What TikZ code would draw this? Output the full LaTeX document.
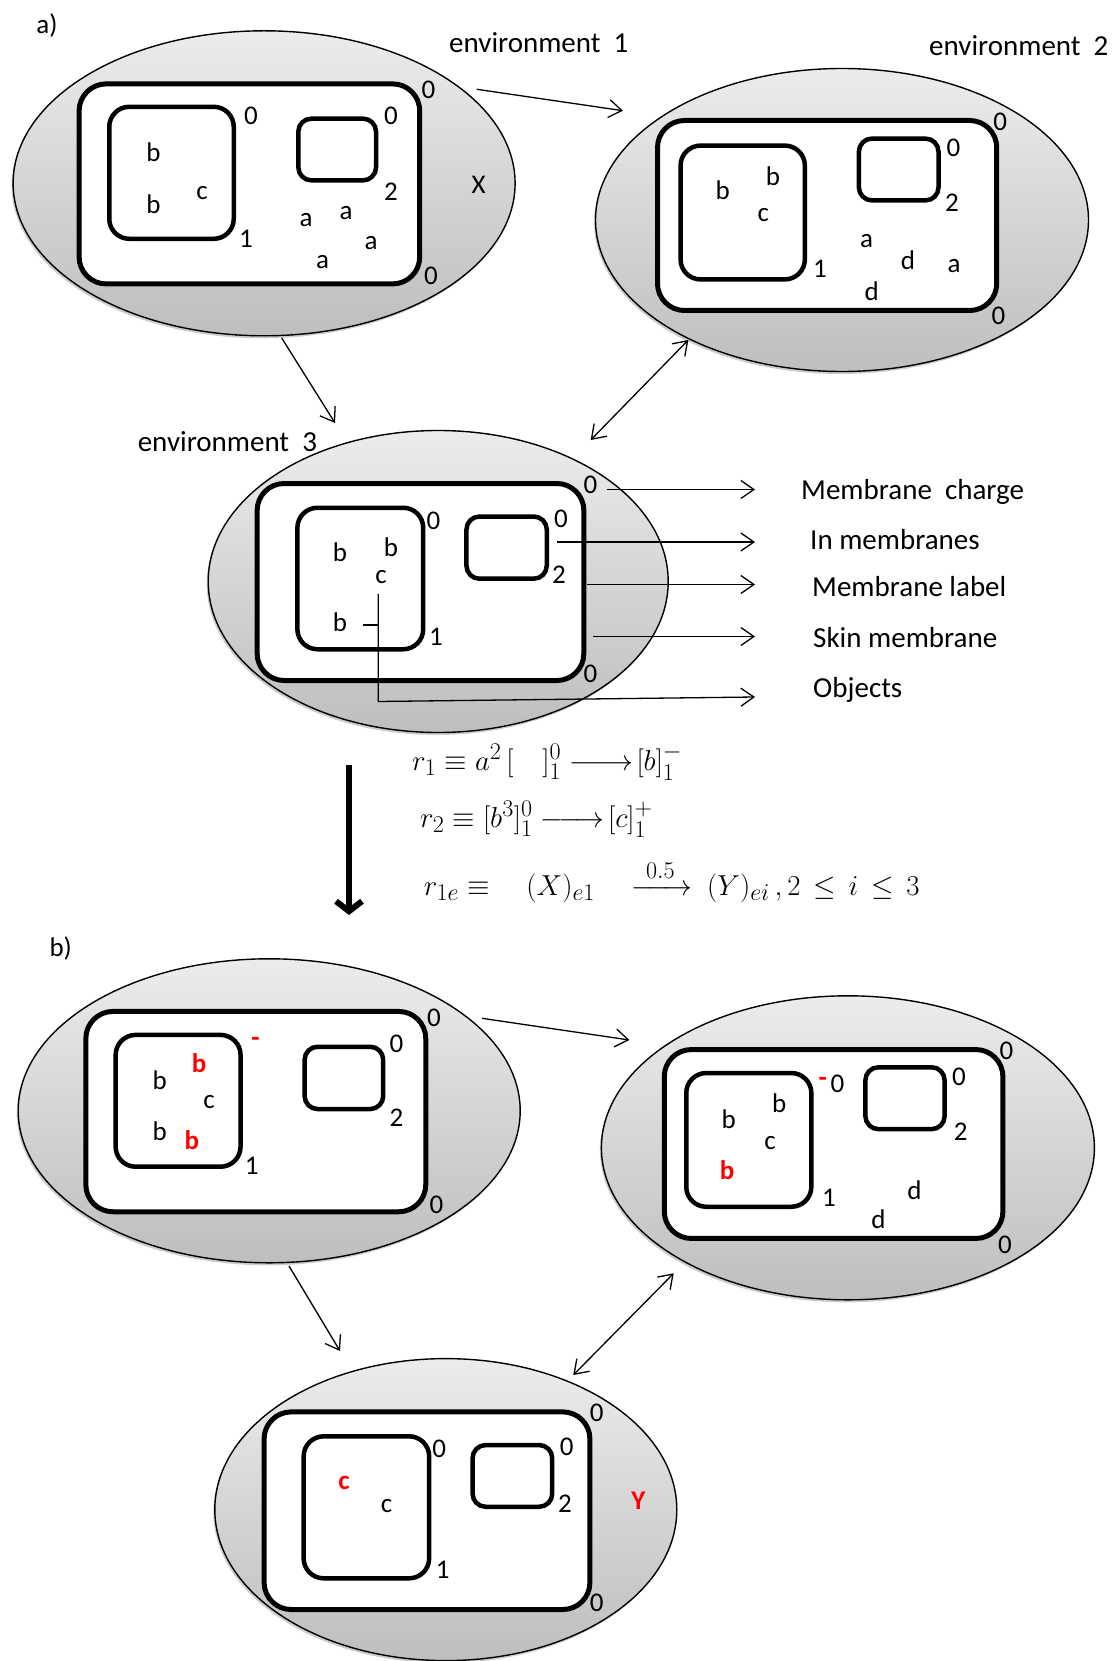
\documentclass[tikz,border=0pt]{standalone}
\usepackage{amsmath}
\usepackage{fontspec}
\setmainfont{Carlito}
\usetikzlibrary{shapes.geometric,arrows.meta,shadows}

\definecolor{envtop}{RGB}{236,236,236}
\definecolor{envbot}{RGB}{190,190,190}
\definecolor{hotred}{RGB}{255,0,0}

% a longer reaction arrow
\newcommand{\reacarrow}{\mathrel{\relbar\joinrel\longrightarrow}}

\begin{document}
\begin{tikzpicture}[x=1pt,y=-1pt,
  lbl/.style={inner sep=0pt, font=\fontsize{27}{32}\selectfont},
  hot/.style={inner sep=0pt, text=hotred, font=\fontsize{27}{32}\selectfont\bfseries},
  note/.style={inner sep=0pt, anchor=base west, font=\fontsize{29}{34}\selectfont},
  rule/.style={inner sep=0pt, anchor=base west, font=\fontsize{24.88}{30}\selectfont},
  sz/.style 2 args={minimum width=#1pt, minimum height=#2pt},
  env/.style={ellipse, draw=black, line width=1.4pt, top color=envtop, bottom color=envbot,
    inner sep=0pt, drop shadow={shadow xshift=-1.5pt, shadow yshift=-2.5pt, opacity=0.4, fill=gray}},
  skin/.style={rectangle, draw, line width=5pt, fill=white, rounded corners=27pt, inner sep=0pt},
  memone/.style={rectangle, draw, line width=4.5pt, rounded corners=20pt, inner sep=0pt},
  memtwo/.style={rectangle, draw, line width=4.5pt, rounded corners=13pt, inner sep=0pt},
  link/.style={line width=1.3pt, -{Straight Barb[length=13pt,width=18pt]}},
  twoway/.style={line width=1.3pt, {Straight Barb[length=13pt,width=18pt]}-{Straight Barb[length=13pt,width=18pt]}},
  thin/.style={line width=1.3pt},
]
\useasboundingbox (0,0) rectangle (1114,1661);

% ---------------- a) ----------------
\node[lbl] (parta) at (47,26) {a)};

% environment 1
\node[env, sz={502}{305}] (e1) at (264.1,183.3) {};
\node[skin, sz={340.6}{200}] (s1) at (249.4,183.9) {};
\node[memone, sz={124.5}{132}] (m11) at (171.5,172.8) {};
\node[memtwo, sz={77.7}{61.7}] (m12) at (337.2,149.5) {};
\node[lbl] (e1sa) at (428.5,90) {0};
\node[lbl] (e1sb) at (431,276) {0};
\node[lbl] (e1ma) at (251,116) {0};
\node[lbl] (e1mb) at (246,239) {1};
\node[lbl] (e1na) at (391,116) {0};
\node[lbl] (e1nb) at (391,192) {2};
\node[lbl] (e1o1) at (153.5,152) {b};
\node[lbl] (e1o2) at (153.5,204) {b};
\node[lbl] (e1o3) at (202,193) {c};
\node[lbl] (e1o4) at (306,220) {a};
\node[lbl] (e1o5) at (346,213) {a};
\node[lbl] (e1o6) at (371,243) {a};
\node[lbl] (e1o7) at (322.5,262) {a};
\node[lbl] (e1x) at (478.6,185) {X};
\node[note] (t1) at (449,53) {environment\ \ 1};

% environment 2
\node[env, sz={493}{303}] (e2) at (842,220) {};
\node[skin, sz={339.2}{190}] (s2) at (827.1,215.5) {};
\node[memone, sz={124.3}{133.8}] (m21) at (742.7,212.5) {};
\node[memtwo, sz={79.6}{61.8}] (m22) at (898.7,169.5) {};
\node[lbl] (e2sa) at (1000.3,121.7) {0};
\node[lbl] (e2sb) at (998.5,316) {0};
\node[lbl] (e2mb) at (820,269) {1};
\node[lbl] (e2na) at (953.5,148) {0};
\node[lbl] (e2nb) at (952,203) {2};
\node[lbl] (e2o1) at (722.7,190) {b};
\node[lbl] (e2o2) at (773,176) {b};
\node[lbl] (e2o3) at (763.3,215) {c};
\node[lbl] (e2o4) at (866.5,241.5) {a};
\node[lbl] (e2o5) at (908,260) {d};
\node[lbl] (e2o6) at (954,266.3) {a};
\node[lbl] (e2o7) at (871.6,290.8) {d};
\node[note] (t2) at (929,56) {environment\ \ 2};

% environment 3
\node[env, sz={460}{302}] (e3) at (438.2,581.5) {};
\node[skin, sz={326.7}{197}] (s3) at (420.5,582) {};
\node[memone, sz={125.8}{141.5}] (m31) at (360.3,578.5) {};
\node[memtwo, sz={80.3}{62.2}] (m32) at (506.6,547.6) {};
\node[lbl] (e3sa) at (590.5,485) {0};
\node[lbl] (e3sb) at (590.5,673.5) {0};
\node[lbl] (e3ma) at (433.5,521) {0};
\node[lbl] (e3mb) at (436,637) {1};
\node[lbl] (e3na) at (561,519) {0};
\node[lbl] (e3nb) at (559,574.5) {2};
\node[lbl] (e3o1) at (340,552) {b};
\node[lbl] (e3o2) at (391,547.5) {b};
\node[lbl] (e3o3) at (381,577) {c};
\node[lbl] (e3o4) at (340,622) {b};
\node[note] (t3) at (137.6,451) {environment\ \ 3};

% passages between environments
\coordinate (c12a) at (476.8,89.3);
\coordinate (c12b) at (622.9,110.7);
\coordinate (c13a) at (281.7,338);
\coordinate (c13b) at (335,423);
\coordinate (c23a) at (688.3,340);
\coordinate (c23b) at (590.7,440);
\draw[link] (c12a) -- (c12b);
\draw[link] (c13a) -- (c13b);
\draw[twoway] (c23a) -- (c23b);

% legend of the parts
\node[note] (k1) at (801,499.5) {Membrane\ \ charge};
\node[note] (k2) at (810,549) {In membranes};
\node[note] (k3) at (812,596) {Membrane label};
\node[note] (k4) at (813,647) {Skin membrane};
\node[note] (k5) at (813,697) {Objects};
\coordinate (p1) at (606.8,489.5);
\coordinate (p2) at (556.8,542);
\coordinate (p3) at (587,584.5);
\coordinate (p4) at (593,636.5);
\coordinate (p5) at (378.2,594);
\coordinate (p5b) at (378.2,701.5);
\coordinate (p5c) at (363.2,625);
\coordinate (p5d) at (378.2,625);
\coordinate (q1) at (755,489.5);
\coordinate (q2) at (755,542);
\coordinate (q3) at (755,584.5);
\coordinate (q4) at (755,636.5);
\coordinate (q5) at (755,697);
\draw[link] (p1) -- (q1);
\draw[link] (p2) -- (q2);
\draw[link] (p3) -- (q3);
\draw[link] (p4) -- (q4);
\draw[link] (p5) -- (p5b) -- (q5);
\draw[thin] (p5c) -- (p5d);

% rules
\node[rule] (r1) at (412,770) {\scalebox{1.16}{$r_1 \equiv a^2\,[\quad]_1^0 \reacarrow\![b]_1^-$}};
\node[rule] (r2) at (420,827) {\scalebox{1.16}{$r_2 \equiv[b^3]_1^0 \reacarrow\![c]_1^+$}};
\node[rule] (r3) at (423.6,895) {\scalebox{1.16}{$r_{1e} \equiv\quad (X)_{e1}\quad \xrightarrow{\;0.5\;}\ (Y)_{ei}\,,2 \,\le\, i \,\le\, 3$}};

\coordinate (dtop) at (349,765);
\coordinate (dtip) at (349,915);
\draw[line width=6pt, -{Straight Barb[length=10pt,width=26pt]}] (dtop) -- (dtip);

% ---------------- b) ----------------
\node[lbl] (partb) at (60.7,948) {b)};

% environment 1 after one step
\node[env, sz={502}{304}] (f1) at (269.2,1110.8) {};
\node[skin, sz={339.9}{200.3}] (u1) at (255.8,1111.6) {};
\node[memone, sz={124.9}{131.8}] (n11) at (178.1,1100.8) {};
\node[memtwo, sz={78.6}{62.3}] (n12) at (343.9,1077.9) {};
\node[hot] (f1ch) at (255.4,1041.7) {-};
\node[lbl] (f1sa) at (434,1018.3) {0};
\node[lbl] (f1sb) at (436.4,1205) {0};
\node[lbl] (f1mb) at (251.8,1166) {1};
\node[lbl] (f1na) at (396.4,1044) {0};
\node[lbl] (f1nb) at (396.4,1118) {2};
\node[lbl] (f1o1) at (159.6,1080.7) {b};
\node[hot] (f1o2) at (199,1063.3) {b};
\node[lbl] (f1o3) at (209,1101.7) {c};
\node[lbl] (f1o4) at (159.6,1131.7) {b};
\node[hot] (f1o5) at (191.8,1140) {b};

% environment 2 after one step
\node[env, sz={493}{304}] (f2) at (847.9,1147.8) {};
\node[skin, sz={338.6}{188.9}] (u2) at (833.6,1144) {};
\node[memone, sz={125.1}{133.7}] (n21) at (748.8,1139.9) {};
\node[memtwo, sz={79.2}{61.9}] (n22) at (905,1098.2) {};
\node[hot] (f2ch) at (822.8,1081.7) {-};
\node[lbl] (f2ma) at (837.5,1083.5) {0};
\node[lbl] (f2sa) at (1006.4,1050.7) {0};
\node[lbl] (f2sb) at (1005,1245) {0};
\node[lbl] (f2mb) at (829,1197.3) {1};
\node[lbl] (f2na) at (959,1076.7) {0};
\node[lbl] (f2nb) at (960.8,1131.7) {2};
\node[lbl] (f2o1) at (728.8,1119.3) {b};
\node[lbl] (f2o2) at (779.3,1103.3) {b};
\node[lbl] (f2o3) at (770,1143.3) {c};
\node[hot] (f2o4) at (727,1170) {b};
\node[lbl] (f2o5) at (914.5,1190) {d};
\node[lbl] (f2o6) at (878.4,1219.3) {d};

% environment 3 after one step
\node[env, sz={462}{302}] (f3) at (445.8,1509.6) {};
\node[skin, sz={325.8}{197.6}] (u3) at (427,1510.7) {};
\node[memone, sz={125.5}{142}] (n31) at (366.4,1507.3) {};
\node[memtwo, sz={79.6}{61.7}] (n32) at (512.4,1475.9) {};
\node[lbl] (f3sa) at (596.7,1412.7) {0};
\node[lbl] (f3sb) at (596.7,1602.7) {0};
\node[lbl] (f3ma) at (439.3,1449.3) {0};
\node[lbl] (f3mb) at (442.7,1570) {1};
\node[lbl] (f3na) at (566.7,1447.3) {0};
\node[lbl] (f3nb) at (565,1504) {2};
\node[hot] (f3o1) at (344,1482.7) {c};
\node[lbl] (f3o2) at (386.7,1506) {c};
\node[hot] (f3y) at (638.3,1500.7) {Y};

% passages between environments
\coordinate (d12a) at (482,1018.3);
\coordinate (d12b) at (629.4,1040);
\coordinate (d13a) at (289,1266);
\coordinate (d13b) at (340,1351);
\coordinate (d23a) at (673.7,1273.3);
\coordinate (d23b) at (573.3,1375);
\draw[link] (d12a) -- (d12b);
\draw[link] (d13a) -- (d13b);
\draw[twoway] (d23a) -- (d23b);
\end{tikzpicture}
\end{document}
